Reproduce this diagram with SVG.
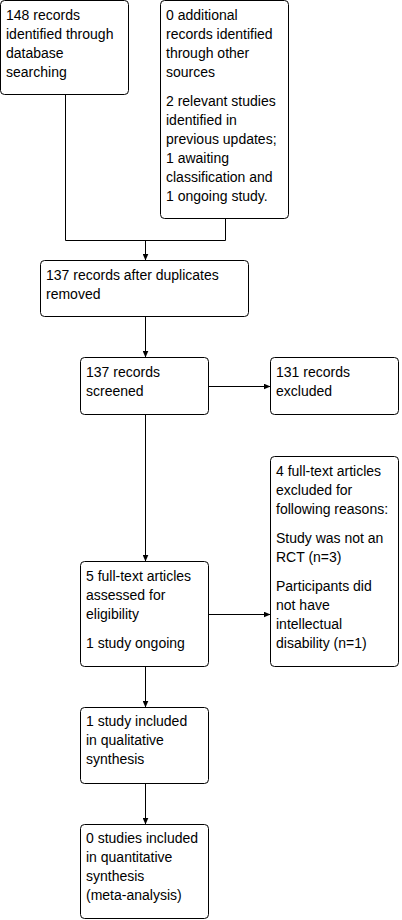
<svg xmlns="http://www.w3.org/2000/svg" width="402" height="920" viewBox="0 0 402 920">
<style>
.box{fill:#fff;stroke:#000;stroke-width:1}
.t{font-family:"Liberation Sans",Arial,sans-serif;font-size:14px;fill:#000}
.c{fill:none;stroke:#000;stroke-width:1}
</style>
<defs>
<marker id="ah" markerWidth="7" markerHeight="6" refX="7" refY="3" orient="auto" markerUnits="userSpaceOnUse">
<path d="M0,0 L7,3 L0,6 z" fill="#000"/>
</marker>
</defs>
<rect width="402" height="920" fill="#fff"/>
<g id="connectors">
<path class="c" d="M65.5,94.5 V240.5 H225.5 V218.5"/>
<path class="c" d="M145.5,240.5 V260.5" marker-end="url(#ah)"/>
<path class="c" d="M145.5,316.5 V357.5" marker-end="url(#ah)"/>
<path class="c" d="M208.5,386.5 H270.5" marker-end="url(#ah)"/>
<path class="c" d="M145.5,414.5 V561.5" marker-end="url(#ah)"/>
<path class="c" d="M208.5,614.5 H270.5" marker-end="url(#ah)"/>
<path class="c" d="M145.5,666.5 V707.5" marker-end="url(#ah)"/>
<path class="c" d="M145.5,783.5 V824.5" marker-end="url(#ah)"/>
</g>
<g id="n1">
<rect class="box" x="0.5" y="0.5" width="128" height="94" rx="4"/>
<text class="t" x="6" y="20">148 records</text>
<text class="t" x="6" y="39">identified through</text>
<text class="t" x="6" y="58">database</text>
<text class="t" x="6" y="77">searching</text>
</g>
<g id="n2">
<rect class="box" x="160.5" y="0.5" width="128" height="218" rx="4"/>
<text class="t" x="166" y="20">0 additional</text>
<text class="t" x="166" y="39">records identified</text>
<text class="t" x="166" y="58">through other</text>
<text class="t" x="166" y="77">sources</text>
<text class="t" x="166" y="106">2 relevant studies</text>
<text class="t" x="166" y="125">identified in</text>
<text class="t" x="166" y="144">previous updates;</text>
<text class="t" x="166" y="163">1 awaiting</text>
<text class="t" x="166" y="182">classification and</text>
<text class="t" x="166" y="201">1 ongoing study.</text>
</g>
<g id="n3">
<rect class="box" x="40.5" y="260.5" width="208" height="56" rx="4"/>
<text class="t" x="46" y="280">137 records after duplicates</text>
<text class="t" x="46" y="299">removed</text>
</g>
<g id="n4">
<rect class="box" x="80.5" y="357.5" width="128" height="57" rx="4"/>
<text class="t" x="86" y="377">137 records</text>
<text class="t" x="86" y="396">screened</text>
</g>
<g id="n5">
<rect class="box" x="270.5" y="357.5" width="128" height="57" rx="4"/>
<text class="t" x="276" y="377">131 records</text>
<text class="t" x="276" y="396">excluded</text>
</g>
<g id="n6">
<rect class="box" x="80.5" y="561.5" width="128" height="105" rx="4"/>
<text class="t" x="86" y="581">5 full-text articles</text>
<text class="t" x="86" y="600">assessed for</text>
<text class="t" x="86" y="619">eligibility</text>
<text class="t" x="86" y="648">1 study ongoing</text>
</g>
<g id="n7">
<rect class="box" x="270.5" y="456.5" width="128" height="210" rx="4"/>
<text class="t" x="276" y="476">4 full-text articles</text>
<text class="t" x="276" y="495">excluded for</text>
<text class="t" x="276" y="514">following reasons:</text>
<text class="t" x="276" y="543">Study was not an</text>
<text class="t" x="276" y="562">RCT (n=3)</text>
<text class="t" x="276" y="591">Participants did</text>
<text class="t" x="276" y="610">not have</text>
<text class="t" x="276" y="629">intellectual</text>
<text class="t" x="276" y="648">disability (n=1)</text>
</g>
<g id="n8">
<rect class="box" x="80.5" y="707.5" width="128" height="76" rx="4"/>
<text class="t" x="86" y="726">1 study included</text>
<text class="t" x="86" y="745">in qualitative</text>
<text class="t" x="86" y="764">synthesis</text>
</g>
<g id="n9">
<rect class="box" x="80.5" y="824.5" width="128" height="94" rx="4"/>
<text class="t" x="86" y="843">0 studies included</text>
<text class="t" x="86" y="862">in quantitative</text>
<text class="t" x="86" y="881">synthesis</text>
<text class="t" x="86" y="900">(meta-analysis)</text>
</g>
</svg>
